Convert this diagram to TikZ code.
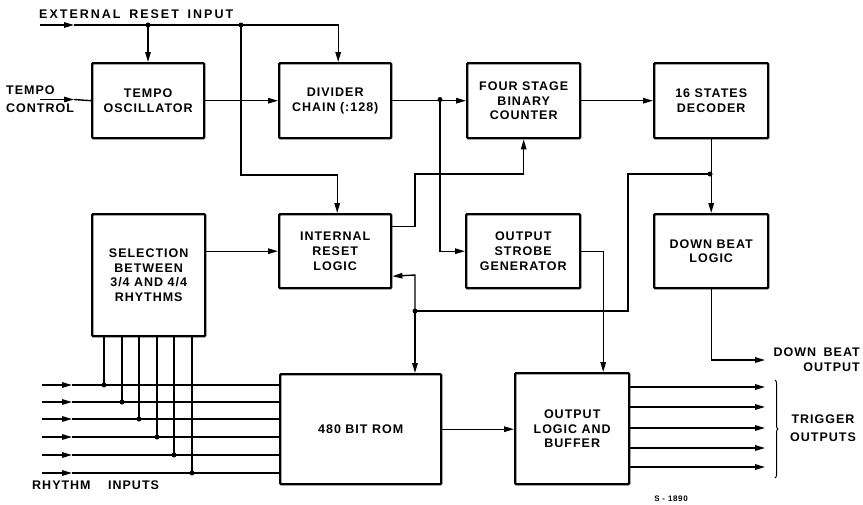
\documentclass[tikz,border=0pt]{standalone}
\usepackage{fontspec}
\setmainfont{Liberation Sans}[LetterSpace=8]
\newfontfamily\widefont{Liberation Sans}[LetterSpace=16]
\usetikzlibrary{arrows.meta,decorations.pathreplacing}
\begin{document}
\begin{tikzpicture}[x=1pt,y=-1pt,
  blk/.style={draw, line width=2.4pt, rounded corners=1pt, align=center,
    font=\fontsize{12.5}{14.8}\selectfont\bfseries, inner sep=0pt, anchor=north west},
  lbl/.style={font=\fontsize{12.5}{14.8}\selectfont\bfseries, inner sep=0pt},
  wire/.style={line width=1.4pt},
  arr/.style={wire, -{Triangle[length=10pt,width=5.5pt]}},
  dot/.style={fill=black}]
\useasboundingbox (0,0) rectangle (863,504);

% blocks
\node[blk, minimum width=112pt, minimum height=75pt] (tempo) at (91,62) {TEMPO\\OSCILLATOR};
\node[blk, minimum width=112pt, minimum height=75pt] (div) at (278,62) {DIVIDER\\CHAIN (:128)};
\node[blk, minimum width=113pt, minimum height=75pt] (four) at (466,62) {\raisebox{0pt}{FOUR STAGE}\\BINARY\\COUNTER};
\node[blk, minimum width=114pt, minimum height=75pt] (dec) at (653,62) {16 STATES\\DECODER};
\node[blk, minimum width=113pt, minimum height=122pt] (sel) at (91,213) {SELECTION\\BETWEEN\\3/4 AND 4/4\\RHYTHMS};
\node[blk, minimum width=112pt, minimum height=74pt] (irl) at (278,213) {INTERNAL\\RESET\\LOGIC};
\node[blk, minimum width=114pt, minimum height=74pt] (osg) at (465,213) {OUTPUT\\STROBE\\GENERATOR};
\node[blk, minimum width=114pt, minimum height=74pt] (dbl) at (653,213) {DOWN BEAT\\LOGIC};
\node[blk, minimum width=161pt, minimum height=110pt] (rom) at (279,373) {480 BIT ROM};
\node[blk, minimum width=114pt, minimum height=111pt] (olb) at (514,372) {OUTPUT\\LOGIC AND\\BUFFER};

% labels
\node[lbl, anchor=west] (extl) at (39,14) {\widefont EXTERNAL\hspace{0.7em}RESET\hspace{0.7em}INPUT};
\node[lbl, anchor=west] (tcl1) at (6,90) {TEMPO};
\node[lbl, anchor=west] (tcl2) at (6,108) {CONTROL};
\node[lbl, anchor=east] (dbo1) at (860,352) {DOWN\hspace{0.6em}BEAT};
\node[lbl, anchor=east] (dbo2) at (860,367) {OUTPUT};
\node[lbl, anchor=center] (trg1) at (823,419) {TRIGGER};
\node[lbl, anchor=center] (trg2) at (823,437) {OUTPUTS};
\node[lbl, anchor=west] (rin) at (32,485) {RHYTHM\hspace{1.4em}INPUTS};
\node[font=\fontsize{8}{9}\selectfont\bfseries, inner sep=0pt] (code) at (671,499) {S - 1890};

% coordinates
\coordinate (ext0) at (40,25);
\coordinate (extA) at (74,25);
\coordinate (j2) at (148,25);
\coordinate (j3) at (241,25);
\coordinate (c1) at (241,175);
\coordinate (tc0) at (40,99.5);
\coordinate (tcA) at (74,99.5);
\coordinate (j1) at (440,99.5);
\coordinate (c2) at (415,174);
\coordinate (j4) at (710,174);
\coordinate (c3) at (628,174);
\coordinate (c4) at (628,311);
\coordinate (j5) at (415,311);
\coordinate (c5) at (415,275);
\coordinate (dbo) at (765,360);

% external reset
\draw[arr] (ext0) -- (extA);
\draw[arr] (extA) -| ([xshift=3pt]div.north);
\draw[arr] (j2) -- (j2 |- tempo.north);
\draw[arr] (j3) -- (c1) -| ([xshift=2pt]irl.north);
\fill[dot] (j2) circle (2.5pt);
\fill[dot] (j3) circle (2.5pt);

% tempo control
\draw[arr] (tc0) -- (tcA);
\draw[wire] (tcA) -- (tempo.west);

% main chain
\draw[arr] (tempo.east) -- (div.west);
\draw[arr] (div.east) -- (four.west);
\draw[arr] (four.east) -- (dec.west);
\draw[arr] (j1) |- (osg.west);
\fill[dot] (j1) circle (2.5pt);

% internal reset to counter
\draw[arr] ([yshift=25pt]irl.east) -| (c2) -| (four.south);

% decoder
\draw[arr] (dec.south) -- (dbl.north);
\draw[wire] (j4) -- (c3) -- (c4) -- (j5);
\draw[arr] (j5) -- (c5) -- ([yshift=-25pt]irl.east);
\draw[arr] (j5) -- (j5 |- rom.north);
\fill[dot] (j4) circle (2.5pt);
\fill[dot] (j5) circle (2.5pt);

% strobe
\draw[arr] (osg.east) -| ([xshift=31pt]olb.north);

% selection
\draw[arr] (sel.east |- irl.west) -- (irl.west);

% down beat output
\draw[arr] (dbl.south) |- (dbo);

% ROM to output logic
\draw[arr] (rom.east) -- (rom.east -| olb.west);

% trigger outputs
\foreach \y in {387,407,428,448,467} {
  \draw[arr] (olb.east |- 0,\y) -- (765,\y);
}
\draw[line width=1pt, decorate, decoration={brace, amplitude=3pt}] (775,380) -- (775,478);

% rhythm inputs
\foreach \y/\x in {385/104, 402/122, 419/139, 437/157, 455/174, 473/192} {
  \draw[arr] (42,\y) -- (72,\y);
  \draw[wire] (72,\y) -- (rom.west |- 0,\y);
  \draw[wire] (sel.south -| \x,0) -- (\x,\y);
  \fill[dot] (\x,\y) circle (2.5pt);
}
\end{tikzpicture}
\end{document}
